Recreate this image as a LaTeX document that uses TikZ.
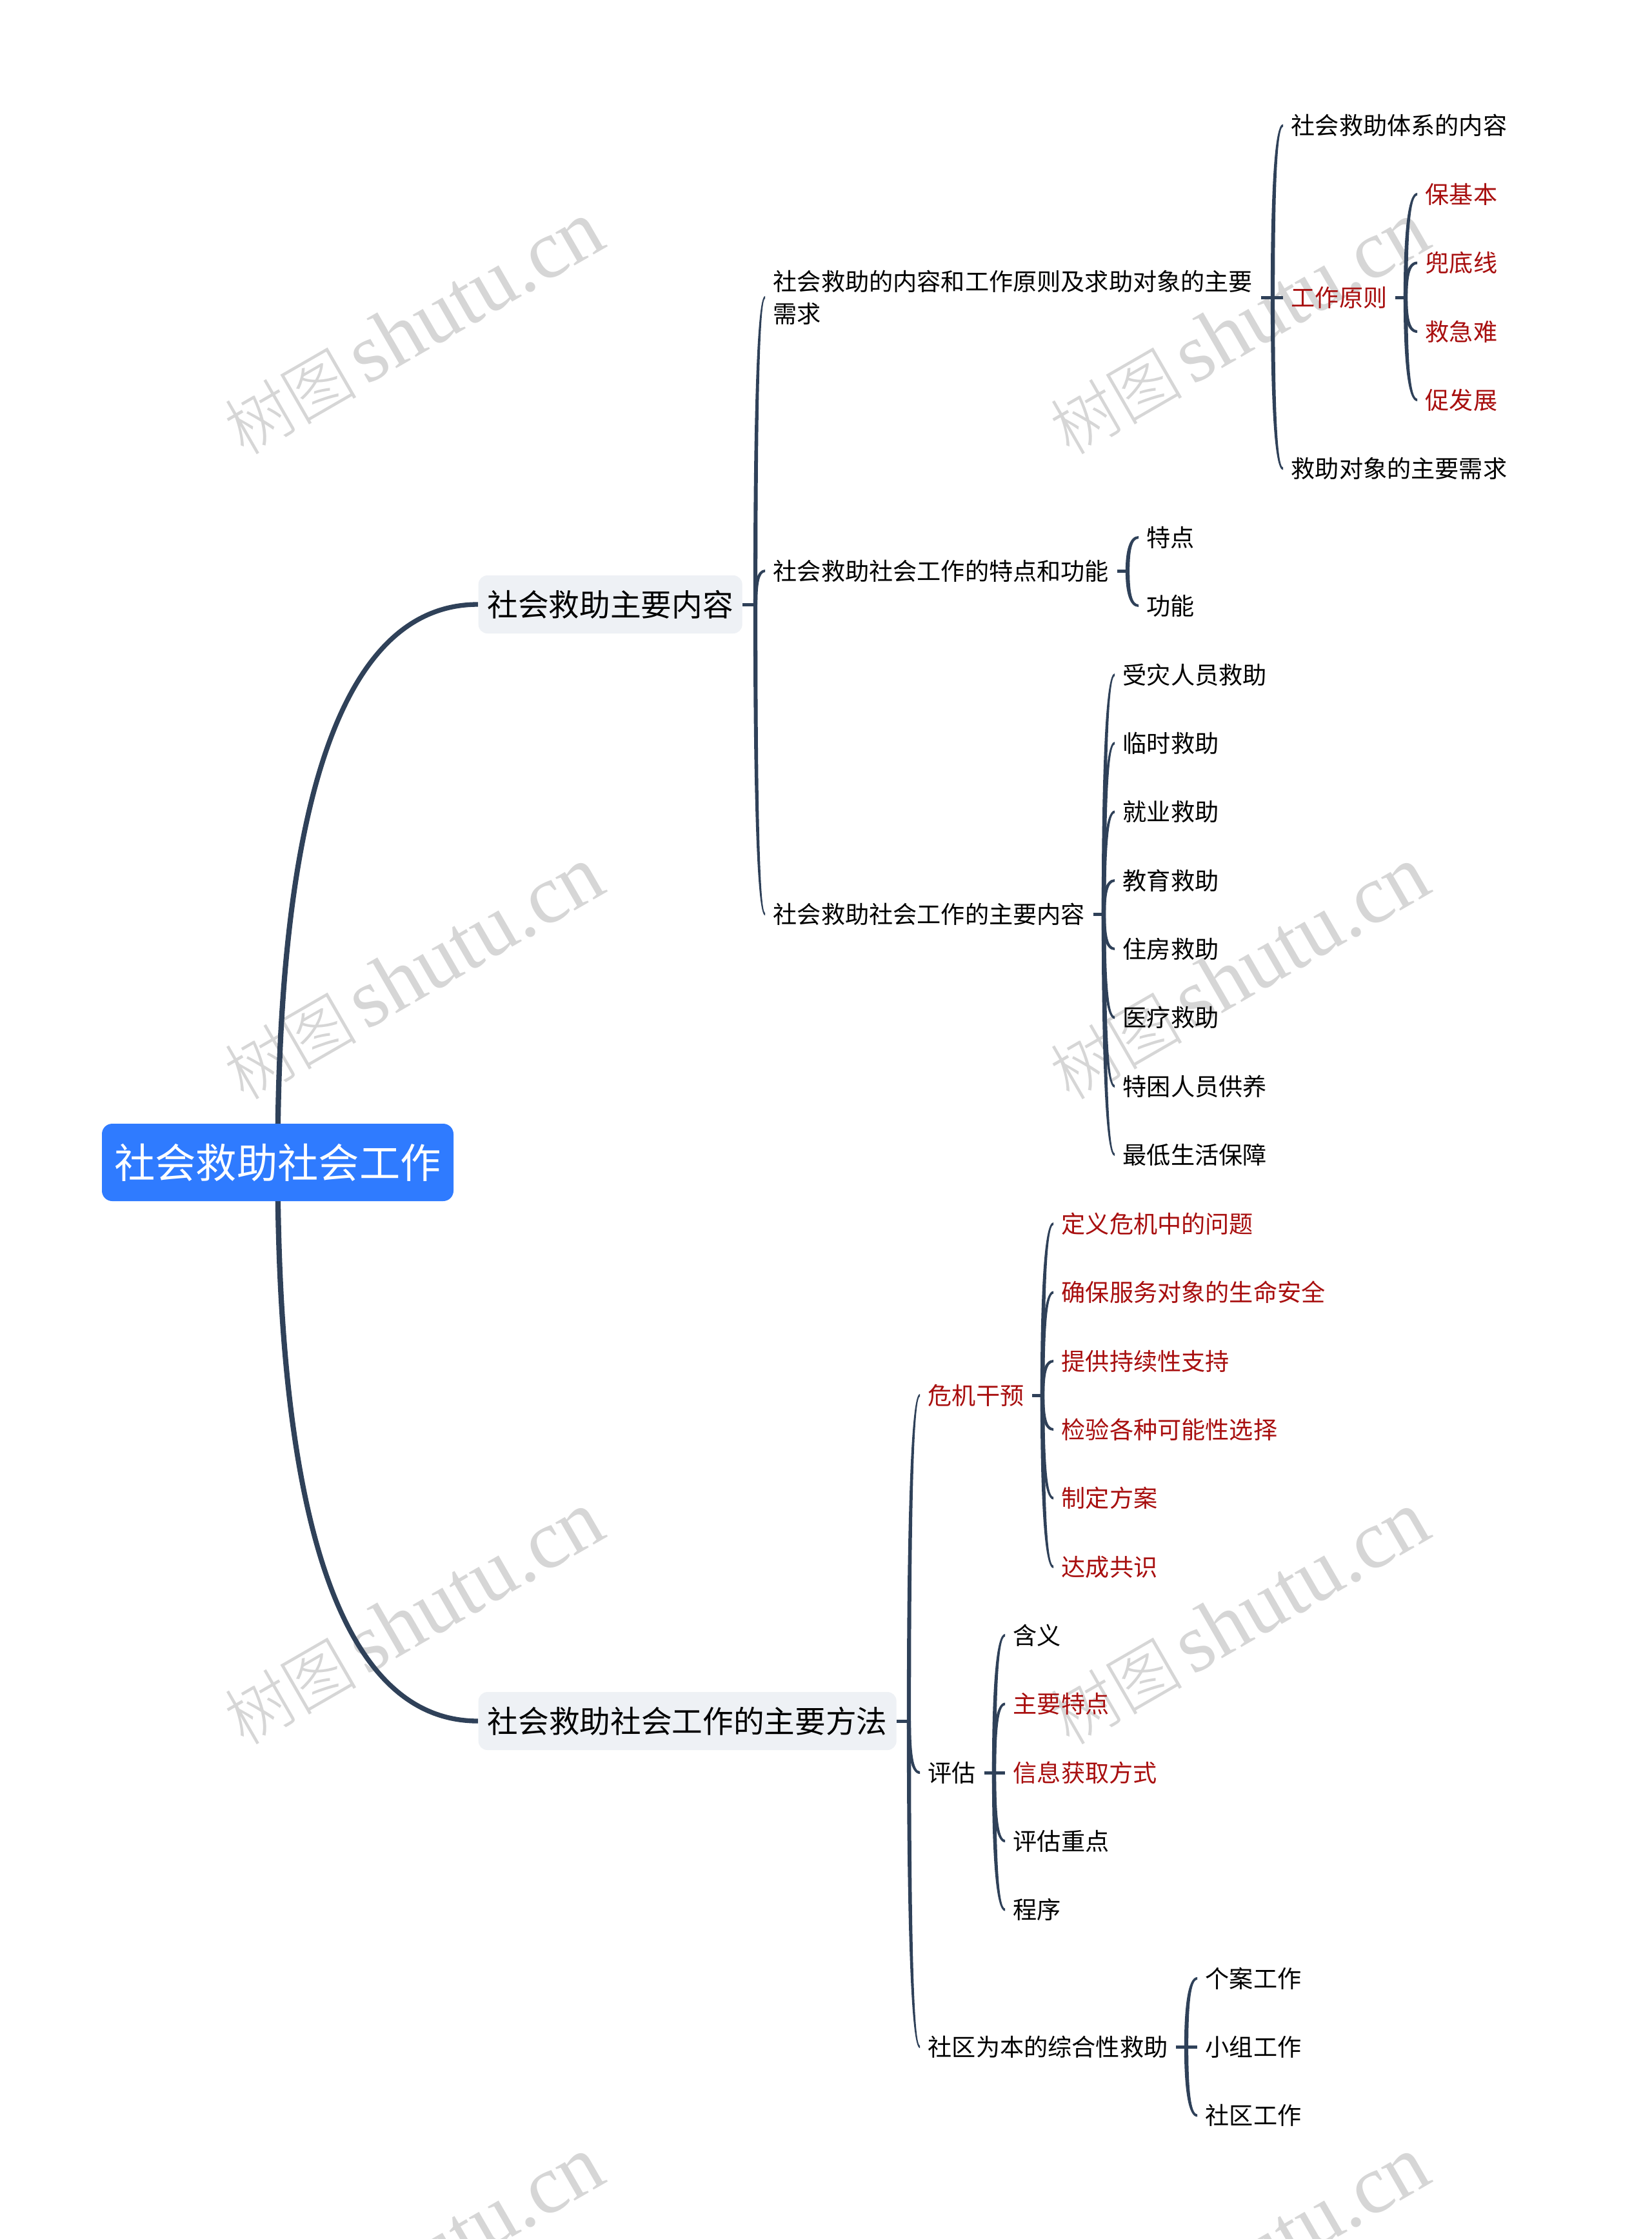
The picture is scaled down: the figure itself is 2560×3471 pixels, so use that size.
\documentclass[tikz,border=0pt]{standalone}
\usepackage{fontspec}
\setmainfont{Noto Sans CJK SC}
\newfontfamily\wmcjk{Noto Sans CJK SC Light}
\newfontfamily\wmlat{Liberation Serif}
\usetikzlibrary{backgrounds,calc}
\definecolor{linec}{HTML}{2F4159}
\definecolor{redtxt}{HTML}{A80F0F}
\definecolor{rootblue}{HTML}{2F7BFF}
\definecolor{lonefill}{HTML}{EEF1F5}
\definecolor{wmgray}{HTML}{D6D6D6}
\tikzset{
  rootbox/.style={fill=rootblue,text=white,rounded corners=4.8pt,inner xsep=0pt,inner ysep=0pt,minimum width=163.5pt,minimum height=36pt,font=\fontsize{19}{23}\selectfont,text height=16.7pt,text depth=2.3pt},
  lonebox/.style={fill=lonefill,text=black,rounded corners=4.2pt,inner xsep=0pt,inner ysep=0pt,minimum height=27pt,font=\fontsize{14.3}{18}\selectfont,text height=12.58pt,text depth=1.72pt},
  leaf/.style={anchor=west,inner xsep=3.6pt,inner ysep=0pt,text=black,font=\fontsize{11.15}{15}\selectfont,text height=9.8pt,text depth=1.33pt},
  redleaf/.style={leaf,text=redtxt},
  para/.style={anchor=west,inner xsep=3.6pt,inner ysep=0pt,text=black,font=\fontsize{11.15}{15}\selectfont,align=left},
  stub/.style={draw=linec,line width=1.5pt},
  wmark/.style={text=wmgray,rotate=30,inner sep=0pt}
}
% tapered branch: #1 start half-width, #2 tip half-width, #3 spine coordinate, #4 child node
\newcommand\conn[4]{%
  \path[fill=linec] let \p1=(#3), \p2=(#4.west), \n1={\x2-\x1}, \n2={\y2-\y1}, \n3={\n2>0pt?1:-1} in
    (\x1-#1,\y1) .. controls (\x1-#1,\y1+.6*\n2) and (\x1+.28*\n1-#2,\y2+\n3*#2) .. (\x2,\y2+\n3*#2)
    -- (\x2,\y2-\n3*#2) .. controls (\x1+.28*\n1+#2,\y2-\n3*#2) and (\x1+#1,\y1+.6*\n2) .. (\x1+#1,\y1) -- cycle;}
\newcommand\br[2]{\conn{.95pt}{.6pt}{#1}{#2}}
\newcommand\wm[2]{\node[wmark] at (#1,#2) {{\wmcjk\fontsize{31}{36}\selectfont 树图}\hspace{4pt}{\wmlat\fontsize{38.7}{40}\selectfont shutu.cn}};}
\begin{document}
\begin{tikzpicture}[x=.3pt,y=-.3pt]
\useasboundingbox (0,0) rectangle (2560,3471);
\clip (0,0) rectangle (2560,3471);
% nodes
\node[rootbox] (root) at (430.5,1802) {社会救助社会工作};
\node[lonebox,anchor=west,minimum width=122.7pt] (la) at (741,937) {社会救助主要内容};
\node[lonebox,anchor=west,minimum width=194.4pt] (lb) at (741,2668) {社会救助社会工作的主要方法};
\node[para] (a1) at (1186,461) {社会救助的内容和工作原则及求助对象的主要\\需求};
\node[leaf] (a2) at (1186,885) {社会救助社会工作的特点和功能};
\node[leaf] (a3) at (1186,1417) {社会救助社会工作的主要内容};
\node[leaf] (a11) at (1989,194.5) {社会救助体系的内容};
\node[redleaf] (a12) at (1989,461) {工作原则};
\node[leaf] (a13) at (1989,726.5) {救助对象的主要需求};
\node[redleaf] (p1) at (2197,301) {保基本};
\node[redleaf] (p2) at (2197,407.5) {兜底线};
\node[redleaf] (p3) at (2197,514) {救急难};
\node[redleaf] (p4) at (2197,620) {促发展};
\node[leaf] (f1) at (1765,833) {特点};
\node[leaf] (f2) at (1765,939) {功能};
\node[leaf] (c1) at (1728,1046) {受灾人员救助};
\node[leaf] (c2) at (1728,1152) {临时救助};
\node[leaf] (c3) at (1728,1258.5) {就业救助};
\node[leaf] (c4) at (1728,1365) {教育救助};
\node[leaf] (c5) at (1728,1471) {住房救助};
\node[leaf] (c6) at (1728,1577.5) {医疗救助};
\node[leaf] (c7) at (1728,1684) {特困人员供养};
\node[leaf] (c8) at (1728,1790) {最低生活保障};
\node[redleaf] (b1) at (1426,2163) {危机干预};
\node[leaf] (b2) at (1426,2748) {评估};
\node[leaf] (b3) at (1426,3173) {社区为本的综合性救助};
\node[redleaf] (d1) at (1633,1897) {定义危机中的问题};
\node[redleaf] (d2) at (1633,2003.5) {确保服务对象的生命安全};
\node[redleaf] (d3) at (1633,2110) {提供持续性支持};
\node[redleaf] (d4) at (1633,2216) {检验各种可能性选择};
\node[redleaf] (d5) at (1633,2322.5) {制定方案};
\node[redleaf] (d6) at (1633,2429) {达成共识};
\node[leaf] (e1) at (1558,2535) {含义};
\node[redleaf] (e2) at (1558,2641.5) {主要特点};
\node[redleaf] (e3) at (1558,2748) {信息获取方式};
\node[leaf] (e4) at (1558,2854) {评估重点};
\node[leaf] (e5) at (1558,2960.5) {程序};
\node[leaf] (g1) at (1856,3067) {个案工作};
\node[leaf] (g2) at (1856,3173) {小组工作};
\node[leaf] (g3) at (1856,3279.5) {社区工作};
% spine coordinates
\coordinate (rs) at (root.center);
\coordinate (sa) at (1171,937);
\coordinate (sb) at (1409,2668);
\coordinate (sa1) at (1973,461);
\coordinate (sa12) at (2179,461);
\coordinate (sa2) at (1748,885);
\coordinate (sa3) at (1711,1417);
\coordinate (sb1) at (1616,2163);
\coordinate (sb2) at (1541,2748);
\coordinate (sb3) at (1839,3173);
% page, watermarks and connectors lie under the nodes
\begin{scope}[on background layer]
\fill[white] (0,0) rectangle (2560,3471);
\foreach \i in {0,1} \foreach \j in {0,1,2,3} {
  \wm{641+1280*\i}{509+1000*\j}
}
\conn{1.25pt}{1.1pt}{rs}{la}
\conn{1.25pt}{1.1pt}{rs}{lb}
\foreach \p/\s/\kids in {la/sa/{a1,a2,a3},lb/sb/{b1,b2,b3},a1/sa1/{a11,a13},a12/sa12/{p1,p2,p3,p4},a2/sa2/{f1,f2},a3/sa3/{c1,c2,c3,c4,c5,c6,c7,c8},b1/sb1/{d1,d2,d3,d4,d5,d6},b2/sb2/{e1,e2,e4,e5},b3/sb3/{g1,g3}}{
  \draw[stub] (\p.east) -- (\s);
  \foreach \k in \kids {\br{\s}{\k}}
}
\draw[stub] (sa1) -- (a12.west);
\draw[stub] (sb2) -- (e3.west);
\draw[stub] (sb3) -- (g2.west);
\end{scope}
\end{tikzpicture}
\end{document}
